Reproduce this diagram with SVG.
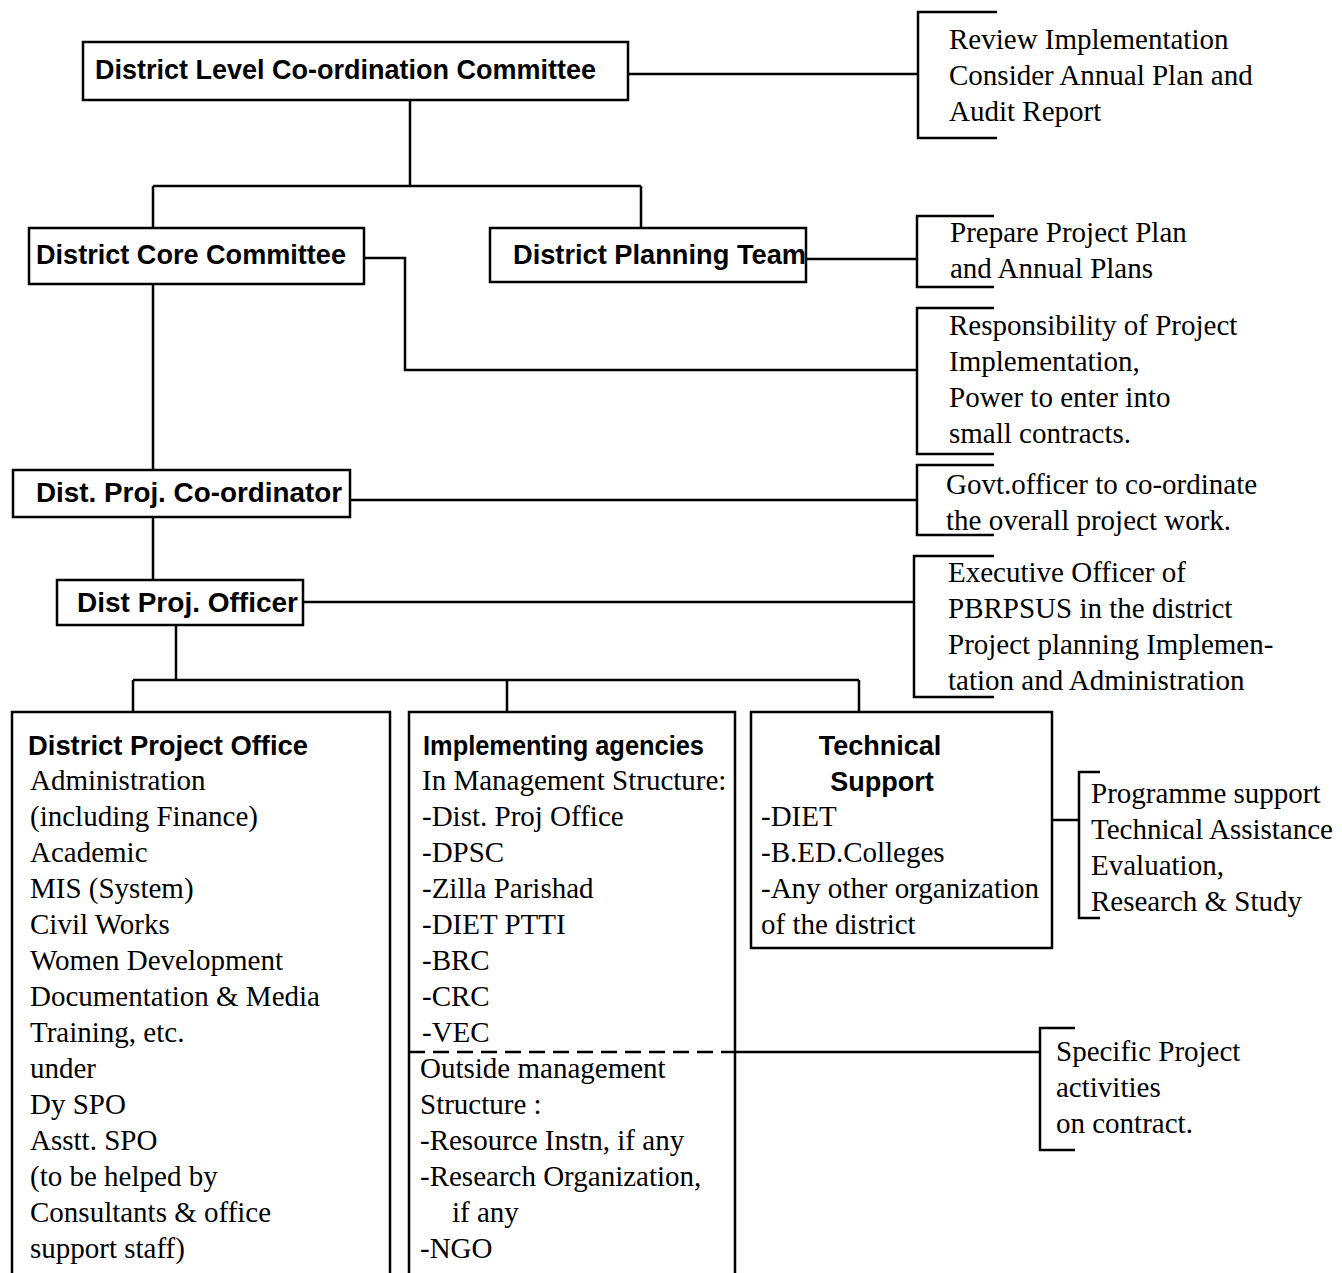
<svg xmlns="http://www.w3.org/2000/svg" width="1342" height="1273" viewBox="0 0 1342 1273">
<style>
.bx{fill:none;stroke:#000;stroke-width:2.5}
.ln{fill:none;stroke:#000;stroke-width:2.5}
.dash{fill:none;stroke:#000;stroke-width:2.5;stroke-dasharray:16 8}
.h{font-family:"Liberation Sans",Arial,sans-serif;font-weight:bold;font-size:27px;fill:#000}
.t{font-family:"Liberation Serif","Times New Roman",serif;font-size:29px;fill:#000}
</style>
<rect width="1342" height="1273" fill="#fff"/>
<g id="connectors">
<path class="ln" d="M410 100V186M153 186H641M153 186V228M641 186V228"/>
<path class="ln" d="M628 74H918"/>
<path class="ln" d="M806 259H917"/>
<path class="ln" d="M364 258H405V370H917"/>
<path class="ln" d="M153 284V470"/>
<path class="ln" d="M350 500H917"/>
<path class="ln" d="M153 517V580"/>
<path class="ln" d="M303 602H914"/>
<path class="ln" d="M176 625V680M133 680H859M133 680V712M507 680V712M859 680V712"/>
<path class="ln" d="M1052 820H1079"/>
<path class="dash" d="M409 1052H735"/>
<path class="ln" d="M735 1052H1040"/>
</g>
<g id="n1"><rect class="bx" x="83" y="42" width="545" height="58"/><text class="h" x="95" y="79" textLength="501" lengthAdjust="spacingAndGlyphs">District Level Co-ordination Committee</text></g>
<g id="n2"><rect class="bx" x="29" y="228" width="335" height="56"/><text class="h" x="36" y="264" textLength="310" lengthAdjust="spacingAndGlyphs">District Core Committee</text></g>
<g id="n3"><rect class="bx" x="490" y="228" width="316" height="54"/><text class="h" x="513" y="264" textLength="293" lengthAdjust="spacingAndGlyphs">District Planning Team</text></g>
<g id="n4"><rect class="bx" x="13" y="470" width="337" height="47"/><text class="h" x="36" y="502" textLength="306" lengthAdjust="spacingAndGlyphs">Dist. Proj. Co-ordinator</text></g>
<g id="n5"><rect class="bx" x="57" y="580" width="246" height="45"/><text class="h" x="77" y="612" textLength="221" lengthAdjust="spacingAndGlyphs">Dist Proj. Officer</text></g>
<g id="n6"><path class="bx" d="M12 1273V712H390V1273"/>
<text class="h" x="28" y="755" textLength="280" lengthAdjust="spacingAndGlyphs">District Project Office</text>
<text class="t"><tspan x="30" y="790">Administration</tspan><tspan x="30" y="826">(including Finance)</tspan><tspan x="30" y="862">Academic</tspan><tspan x="30" y="898">MIS (System)</tspan><tspan x="30" y="934">Civil Works</tspan><tspan x="30" y="970">Women Development</tspan><tspan x="30" y="1006">Documentation &amp; Media</tspan><tspan x="30" y="1042">Training, etc.</tspan><tspan x="30" y="1078">under</tspan><tspan x="30" y="1114">Dy SPO</tspan><tspan x="30" y="1150">Asstt. SPO</tspan><tspan x="30" y="1186">(to be helped by</tspan><tspan x="30" y="1222">Consultants &amp; office</tspan><tspan x="30" y="1258">support staff)</tspan></text></g>
<g id="n7"><path class="bx" d="M409 1273V712H735V1273"/>
<text class="h" x="423" y="755" textLength="281" lengthAdjust="spacingAndGlyphs">Implementing agencies</text>
<text class="t"><tspan x="422" y="790">In Management Structure:</tspan><tspan x="422" y="826">-Dist. Proj Office</tspan><tspan x="422" y="862">-DPSC</tspan><tspan x="422" y="898">-Zilla Parishad</tspan><tspan x="422" y="934">-DIET PTTI</tspan><tspan x="422" y="970">-BRC</tspan><tspan x="422" y="1006">-CRC</tspan><tspan x="422" y="1042">-VEC</tspan><tspan x="420" y="1078">Outside management</tspan><tspan x="420" y="1114">Structure :</tspan><tspan x="420" y="1150">-Resource Instn, if any</tspan><tspan x="420" y="1186">-Research Organization,</tspan><tspan x="452" y="1222">if any</tspan><tspan x="420" y="1258">-NGO</tspan></text></g>
<g id="n8"><rect class="bx" x="751" y="712" width="301" height="236"/>
<text class="h" text-anchor="middle"><tspan x="880" y="755">Technical</tspan><tspan x="882" y="791">Support</tspan></text>
<text class="t"><tspan x="761" y="826">-DIET</tspan><tspan x="761" y="862">-B.ED.Colleges</tspan><tspan x="761" y="898">-Any other organization</tspan><tspan x="761" y="934">of  the district</tspan></text></g>
<g id="b1"><path class="ln" d="M997 12H918V138H997"/><text class="t"><tspan x="949" y="49">Review Implementation</tspan><tspan x="949" y="85">Consider Annual Plan and</tspan><tspan x="949" y="121">Audit Report</tspan></text></g>
<g id="b2"><path class="ln" d="M994 216H917V287H994"/><text class="t"><tspan x="950" y="242">Prepare Project Plan</tspan><tspan x="950" y="278">and Annual Plans</tspan></text></g>
<g id="b3"><path class="ln" d="M994 308H917V454H994"/><text class="t"><tspan x="949" y="335">Responsibility of Project</tspan><tspan x="949" y="371">Implementation,</tspan><tspan x="949" y="407">Power to enter into</tspan><tspan x="949" y="443">small contracts.</tspan></text></g>
<g id="b4"><path class="ln" d="M994 465H917V535H994"/><text class="t"><tspan x="946" y="494">Govt.officer to co-ordinate</tspan><tspan x="946" y="530">the overall project work.</tspan></text></g>
<g id="b5"><path class="ln" d="M994 556H914V697H994"/><text class="t"><tspan x="948" y="582">Executive Officer of</tspan><tspan x="948" y="618">PBRPSUS in the district</tspan><tspan x="948" y="654">Project planning Implemen-</tspan><tspan x="948" y="690">tation and Administration</tspan></text></g>
<g id="b6"><path class="ln" d="M1100 772H1079V918H1100"/><text class="t"><tspan x="1091" y="803">Programme support</tspan><tspan x="1091" y="839">Technical Assistance</tspan><tspan x="1091" y="875">Evaluation,</tspan><tspan x="1091" y="911">Research &amp; Study</tspan></text></g>
<g id="b7"><path class="ln" d="M1075 1028H1040V1150H1075"/><text class="t"><tspan x="1056" y="1061">Specific Project</tspan><tspan x="1056" y="1097">activities</tspan><tspan x="1056" y="1133">on contract.</tspan></text></g>
</svg>
